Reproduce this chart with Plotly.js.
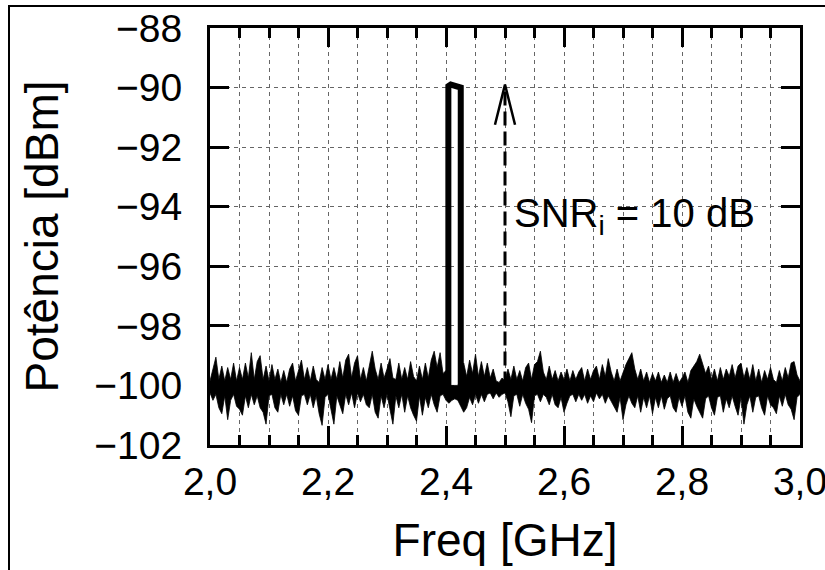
<!DOCTYPE html>
<html>
<head>
<meta charset="utf-8">
<script src="https://cdn.plot.ly/plotly-3.0.1.min.js"></script>
<style>
  html, body { margin: 0; padding: 0; background: #fff; overflow: hidden; }
  #wrap { position: relative; width: 825px; height: 570px; }
  #chart { position: absolute; left: 0; top: 0; width: 825px; height: 570px; }
  #frame { position: absolute; left: 8px; top: 5px; width: 900px; height: 700px;
           border-top: 2px solid #000; border-left: 2px solid #000; pointer-events: none; }
</style>
</head>
<body>
<div id="wrap"><div id="chart"></div><div id="frame"></div></div>
<script>
// ---- data ----
const freqStart = 2.0;      // GHz, first noise sample
const freqStep = 0.005;     // GHz, noise sample spacing

// upper envelope of the noise floor [dBm]
const noiseUpper = [
  -99.85,-99.45,-99.05,-99.8,-99.35,-99.85,-99.4,-99.8,-99.25,-99.85,-99.4,-99.8,-99.25,-99.75,-98.9,-99.8,-99.2,-99.0,-99.8,-99.35,
  -99.85,-99.3,-99.8,-99.45,-99.9,-99.5,-99.9,-99.45,-99.25,-99.85,-99.45,-99.15,-99.8,-99.4,-99.85,-99.35,-99.8,-99.9,-99.4,-99.8,
  -99.3,-99.8,-99.4,-99.8,-99.2,-99.75,-99.15,-98.95,-99.75,-99.25,-99.0,-99.8,-99.4,-99.85,-99.35,-98.85,-99.45,-99.8,-99.25,-99.75,
  -99.45,-99.1,-99.75,-99.8,-99.25,-99.8,-99.4,-99.8,-99.2,-99.7,-99.85,-99.35,-99.8,-99.25,-99.75,-99.15,-98.85,-99.4,-98.9,-99.6,
  -99.5,-100.0,-100.0,-100.0,-100.0,-99.8,-99.25,-99.7,-99.15,-99.6,-98.95,-99.7,-99.2,-99.7,-99.25,-99.75,-99.45,-99.85,-99.9,-99.75,
  -99.85,-99.45,-99.8,-99.35,-99.8,-99.5,-99.85,-99.4,-99.25,-99.8,-99.3,-99.2,-98.85,-99.55,-99.8,-99.35,-99.8,-99.5,-99.85,-99.55,
  -99.8,-99.45,-99.85,-99.5,-99.8,-99.55,-99.4,-99.85,-99.45,-99.8,-99.5,-99.35,-99.8,-99.3,-99.7,-99.1,-99.55,-99.85,-99.45,-99.85,
  -99.55,-99.3,-99.1,-98.9,-99.45,-99.8,-99.45,-99.85,-99.55,-99.9,-99.6,-99.85,-99.55,-99.9,-99.65,-99.9,-99.55,-99.9,-99.6,-99.9,
  -99.75,-99.55,-99.9,-99.5,-99.35,-99.2,-98.95,-99.3,-99.6,-99.35,-99.8,-99.45,-99.85,-99.4,-99.8,-99.45,-99.7,-99.3,-99.75,-99.35,
  -99.25,-99.75,-99.4,-99.8,-99.3,-99.85,-99.45,-99.9,-99.5,-99.8,-99.4,-99.8,-99.9,-99.5,-99.85,-99.4,-99.75,-99.25,-99.2,-99.65,-99.85
];

// lower envelope of the noise floor [dBm]
const noiseLower = [
  -100.25,-100.5,-100.3,-100.75,-100.95,-100.35,-101.15,-100.5,-100.3,-100.7,-100.8,-101.0,-100.35,-100.75,-100.3,-100.65,-100.35,-100.75,-100.9,-101.3,
  -100.35,-100.3,-100.75,-100.9,-100.3,-100.65,-100.3,-100.7,-100.35,-100.85,-101.0,-100.35,-100.3,-100.65,-100.3,-100.75,-100.35,-100.95,-101.34,-100.4,
  -100.3,-100.75,-101.3,-100.35,-100.65,-100.95,-100.3,-100.65,-100.25,-100.75,-100.25,-100.55,-100.3,-100.65,-100.75,-100.3,-100.9,-101.1,-100.35,-100.75,
  -100.3,-100.8,-101.3,-100.35,-100.75,-100.3,-100.9,-100.35,-100.75,-101.0,-101.2,-100.35,-101.0,-100.4,-100.75,-100.3,-100.65,-100.9,-100.35,-100.3,
  -100.5,-100.6,-100.5,-100.45,-100.5,-100.7,-100.9,-100.75,-100.4,-100.65,-100.3,-100.6,-100.3,-100.55,-100.3,-100.25,-100.45,-100.25,-100.4,-100.3,
  -100.25,-100.55,-101.05,-100.35,-100.3,-100.7,-100.3,-100.6,-100.8,-101.25,-100.35,-100.3,-100.55,-100.3,-100.4,-100.65,-100.3,-100.65,-100.75,-100.4,
  -100.9,-100.6,-100.35,-100.3,-100.55,-100.3,-100.5,-100.3,-100.6,-100.35,-100.55,-100.25,-100.45,-100.3,-100.6,-100.35,-100.55,-100.75,-100.9,-100.4,
  -101.15,-100.65,-100.35,-100.6,-100.75,-100.35,-100.9,-100.4,-100.75,-100.35,-100.95,-100.4,-100.75,-100.35,-100.8,-100.45,-100.35,-100.75,-100.9,-100.4,
  -100.7,-100.35,-100.9,-101.1,-100.45,-100.7,-100.9,-101.1,-100.45,-100.35,-100.75,-101.0,-100.4,-100.35,-100.9,-100.45,-100.75,-100.35,-100.7,-101.0,
  -100.4,-101.3,-100.65,-100.35,-100.9,-100.4,-100.35,-100.75,-101.0,-100.35,-100.65,-100.75,-100.95,-100.35,-100.7,-100.3,-100.65,-100.8,-101.15,-100.4,-100.3
];

// in-band signal (2.4 GHz carrier) [GHz], [dBm]
const signalFreq  = [2.404, 2.404, 2.408, 2.414, 2.420, 2.425, 2.425];
const signalPower = [-100.2, -89.95, -89.9, -89.93, -89.97, -90.0, -100.2];

// SNR arrow annotation [GHz], [dBm]
const arrowShaftFreq = [2.5, 2.5];
const arrowShaftPower = [-100.0, -90.1];
const arrowHeadFreq = [2.483, 2.5, 2.517];
const arrowHeadPower = [-91.25, -89.9, -91.25];
const snrLabel = 'SNR<sub>i</sub> = 10 dB';
const snrLabelPos = [2.5125, -94.3];

// axes
const xRange = [2.0, 3.0];
const yRange = [-102, -88];
const xTitle = 'Freq [GHz]';
const yTitle = 'Potência [dBm]';

// ---- build ----
const noiseFreq = noiseUpper.map((_, i) => +(freqStart + i * freqStep).toFixed(3));
const FONT = 'Liberation Sans, Arial, Helvetica, sans-serif';

const traces = [
  { x: noiseFreq, y: noiseLower, type: 'scatter', mode: 'lines',
    line: { color: '#000', width: 0.8 }, hoverinfo: 'skip', showlegend: false },
  { x: noiseFreq, y: noiseUpper, type: 'scatter', mode: 'lines', fill: 'tonexty',
    fillcolor: '#000', line: { color: '#000', width: 0.8 }, hoverinfo: 'skip', showlegend: false },
  { x: signalFreq, y: signalPower, type: 'scatter', mode: 'lines',
    line: { color: '#000', width: 6 }, showlegend: false },
  { x: arrowShaftFreq, y: arrowShaftPower, type: 'scatter', mode: 'lines',
    line: { color: '#000', width: 3, dash: '14px,6px' }, showlegend: false },
  { x: arrowHeadFreq, y: arrowHeadPower, type: 'scatter', mode: 'lines',
    line: { color: '#000', width: 2.5 }, showlegend: false }
];

const gridStyle = { gridcolor: '#666', gridwidth: 1, griddash: '4px,4px' };

const layout = {
  width: 825, height: 570,
  margin: { l: 210, r: 25, t: 28, b: 125 },
  paper_bgcolor: '#fff', plot_bgcolor: '#fff',
  separators: ',.',
  font: { family: FONT, color: '#000', size: 39 },
  showlegend: false,
  xaxis: {
    range: xRange, dtick: 0.2, tick0: 2.0, tickformat: '.1f',
    showline: true, linecolor: '#000', linewidth: 3, mirror: 'allticks',
    ticks: 'inside', ticklen: 19, tickwidth: 3, tickcolor: '#000',
    showgrid: true, ...gridStyle, zeroline: false,
    tickfont: { size: 39, family: FONT, color: '#000' },
    ticklabeloverflow: 'allow',
    minor: { dtick: 0.05, ticks: 'inside', ticklen: 10, tickwidth: 3, tickcolor: '#000',
             showgrid: true, ...gridStyle },
    title: { text: xTitle, font: { size: 46, family: FONT, color: '#000' }, standoff: 23 },
    automargin: false
  },
  yaxis: {
    range: yRange, dtick: 2, tick0: -88,
    showline: true, linecolor: '#000', linewidth: 3, mirror: 'allticks',
    ticks: 'inside', ticklen: 19, tickwidth: 3, tickcolor: '#000',
    showgrid: true, ...gridStyle, zeroline: false,
    tickfont: { size: 39, family: FONT, color: '#000' },
    ticklabeloverflow: 'allow',
    ticklabelstandoff: 17,
    title: { text: yTitle, font: { size: 46, family: FONT, color: '#000' }, standoff: 22 },
    automargin: false
  },
  annotations: [{
    x: snrLabelPos[0], y: snrLabelPos[1], xref: 'x', yref: 'y',
    text: snrLabel, showarrow: false, xanchor: 'left', yanchor: 'middle',
    font: { size: 40, family: FONT, color: '#000' }, bgcolor: 'rgba(0,0,0,0)'
  }]
};

Plotly.newPlot('chart', traces, layout, { staticPlot: true, displayModeBar: false });
</script>
</body>
</html>
